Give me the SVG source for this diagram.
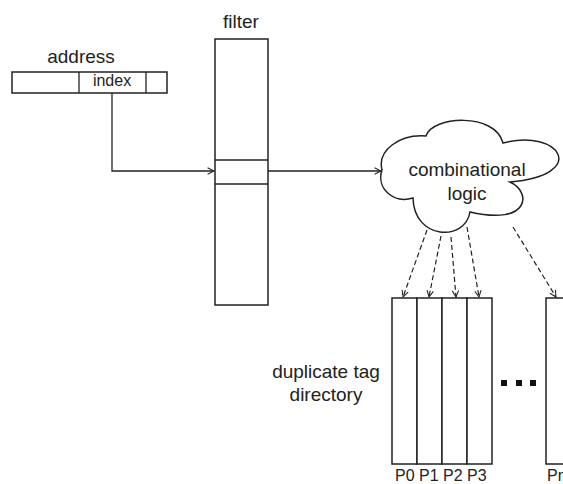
<svg xmlns="http://www.w3.org/2000/svg" width="563" height="484" viewBox="0 0 563 484">
<defs>
<marker id="arr" viewBox="0 0 10 10" refX="9" refY="5" markerWidth="8" markerHeight="8" markerUnits="userSpaceOnUse" orient="auto">
<path d="M1,1 L9,5 L1,9" fill="none" stroke="#222" stroke-width="1.3"/>
</marker>
<style>
.box{fill:#fff;stroke:#222;stroke-width:1.5}
.ln{fill:none;stroke:#222;stroke-width:1.3}
.dash{fill:none;stroke:#222;stroke-width:1.2;stroke-dasharray:5,3}
text{font-family:"Liberation Sans",Arial,sans-serif;fill:#222}
.lbl{font-size:19px;text-anchor:middle}
</style>
</defs>
<g id="address">
<text class="lbl" x="81" y="63">address</text>
<rect class="box" x="12" y="72" width="155" height="21"/>
<line class="ln" x1="79" y1="72" x2="79" y2="93"/>
<line class="ln" x1="146" y1="72" x2="146" y2="93"/>
<text x="112" y="86" style="font-size:16px;text-anchor:middle">index</text>
</g>
<g id="filter">
<text class="lbl" x="241" y="28">filter</text>
<rect class="box" x="215" y="39" width="53" height="266"/>
<line class="ln" x1="215" y1="160" x2="268" y2="160"/>
<line class="ln" x1="215" y1="184" x2="268" y2="184"/>
</g>
<g id="logic">
<path class="box" d="M382,170 C377,150 400,134 426,136 C432,116 495,112 503,143 C560,128 590,175 510,182 C532,192 530,226 470,212 C465,242 414,240 413,198 C393,204 376,188 382,170 Z"/>
<text class="lbl" x="467" y="176">combinational</text>
<text class="lbl" x="467" y="200">logic</text>
</g>
<g id="directory">
<rect class="box" x="392" y="298" width="25" height="166"/>
<rect class="box" x="417" y="298" width="25" height="166"/>
<rect class="box" x="442" y="298" width="25" height="166"/>
<rect class="box" x="467" y="298" width="25" height="166"/>
<rect class="box" x="546" y="298" width="25" height="166"/>
<rect x="501" y="380" width="6" height="6" fill="#111"/>
<rect x="516" y="380" width="6" height="6" fill="#111"/>
<rect x="530" y="380" width="6" height="6" fill="#111"/>
<text class="lbl" x="326" y="378">duplicate tag</text>
<text class="lbl" x="326" y="401">directory</text>
<text x="395" y="481" style="font-size:16px">P0 P1 P2 P3</text>
<text x="547" y="481" style="font-size:16px">Pn</text>
</g>
<g id="connectors">
<path class="ln" d="M112,93 V171 H214" marker-end="url(#arr)"/>
<path class="ln" d="M268,171 H381" marker-end="url(#arr)"/>
<path class="dash" d="M427,230 L403,297" marker-end="url(#arr)"/>
<path class="dash" d="M441,236 L429,297" marker-end="url(#arr)"/>
<path class="dash" d="M451,237 L456,297" marker-end="url(#arr)"/>
<path class="dash" d="M467,227 L479,297" marker-end="url(#arr)"/>
<path class="dash" d="M513,227 L556,297" marker-end="url(#arr)"/>
</g>
</svg>
